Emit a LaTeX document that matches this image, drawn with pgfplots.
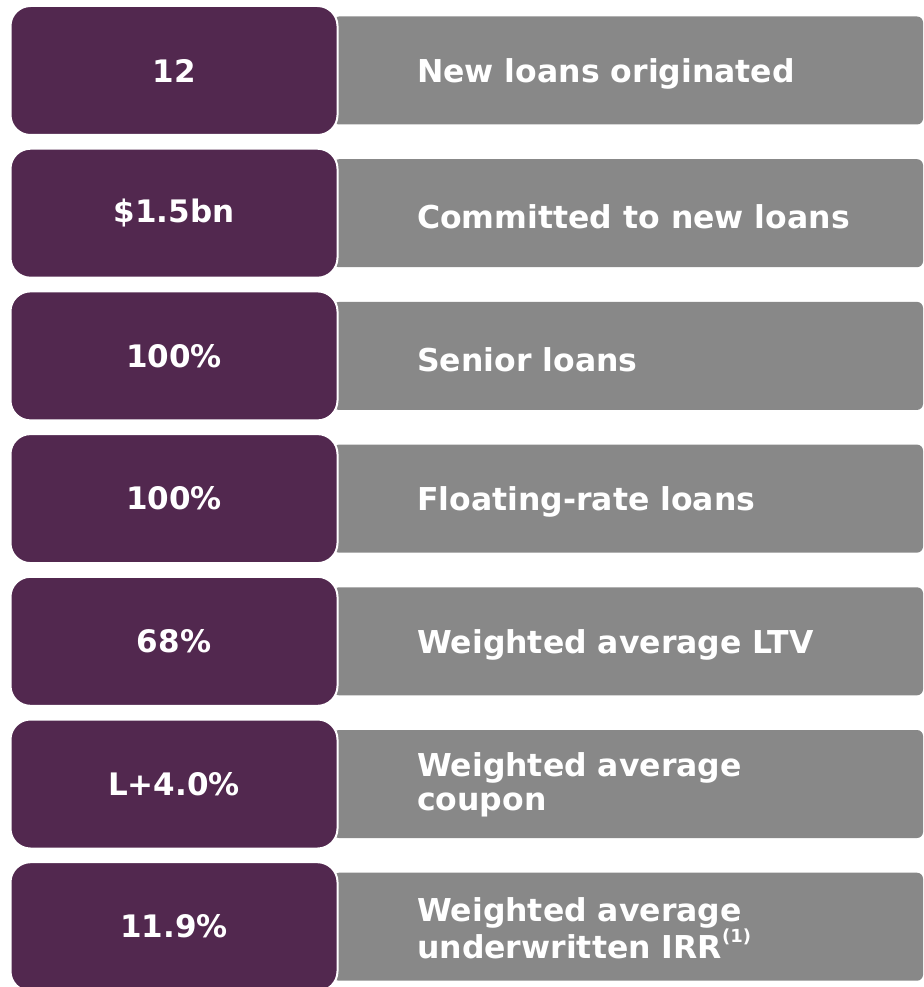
\documentclass[border=0pt]{standalone}
\usepackage{pgfplots}
\pgfplotsset{compat=1.18}
\usepackage{fontspec}
\setmainfont{DejaVu Sans}
\definecolor{plum}{HTML}{52284F}
\definecolor{slate}{HTML}{888888}
\newcommand{\bigfont}{\bfseries\fontsize{31.5}{34.5}\selectfont}
\newcommand{\valfont}{\bfseries\fontsize{31}{34}\selectfont}
\begin{document}
\begin{tikzpicture}
\begin{axis}[
  scale only axis, width=923pt, height=987pt,
  xmin=0, xmax=923, ymin=0, ymax=987, y dir=reverse,
  hide axis, clip=false]
% grey label panels
\addplot[draw=none, mark=none, nodes near coords={},
  every node near coord/.style={anchor=center, fill=slate, rounded corners=6pt,
    minimum width=590pt, minimum height=108pt, inner sep=0pt}]
  coordinates {(628,70.5) (628,213.2) (628,355.9) (628,498.6) (628,641.3) (628,784.0) (628,926.7)};
% purple value boxes
\addplot[draw=none, mark=none, point meta=explicit symbolic, nodes near coords,
  every node near coord/.style={anchor=center, fill=plum, draw=white, line width=2pt,
    rounded corners=20pt, minimum width=327pt, minimum height=129pt, inner sep=0pt,
    text=white, font=\valfont}]
  coordinates {(174,70.5) [12] (174,213.2) [\$1.5bn] (174,355.9) [100\%] (174,498.6) [100\%]
    (174,641.3) [68\%] (174,784.0) [L+4.0\%] (174,926.7) [11.9\%]};
% labels
\addplot[draw=none, mark=none, point meta=explicit symbolic, nodes near coords,
  every node near coord/.style={anchor=west, align=left, inner sep=0pt,
    text=white, font=\bigfont}]
  coordinates {(417,74) [New loans originated] (417,217) [Committed to new loans]
    (417,360) [Senior loans] (417,502) [Floating-rate loans] (417,645) [Weighted average LTV]
    (417,785) [{Weighted average\\coupon}]
    (417,928) [{Weighted average\\underwritten IRR\raisebox{0.5em}{\fontsize{18}{18}\selectfont(1)}}]};
\end{axis}
\pgfresetboundingbox
\path (0,0) rectangle (923pt,987pt);
\end{tikzpicture}
\end{document}
